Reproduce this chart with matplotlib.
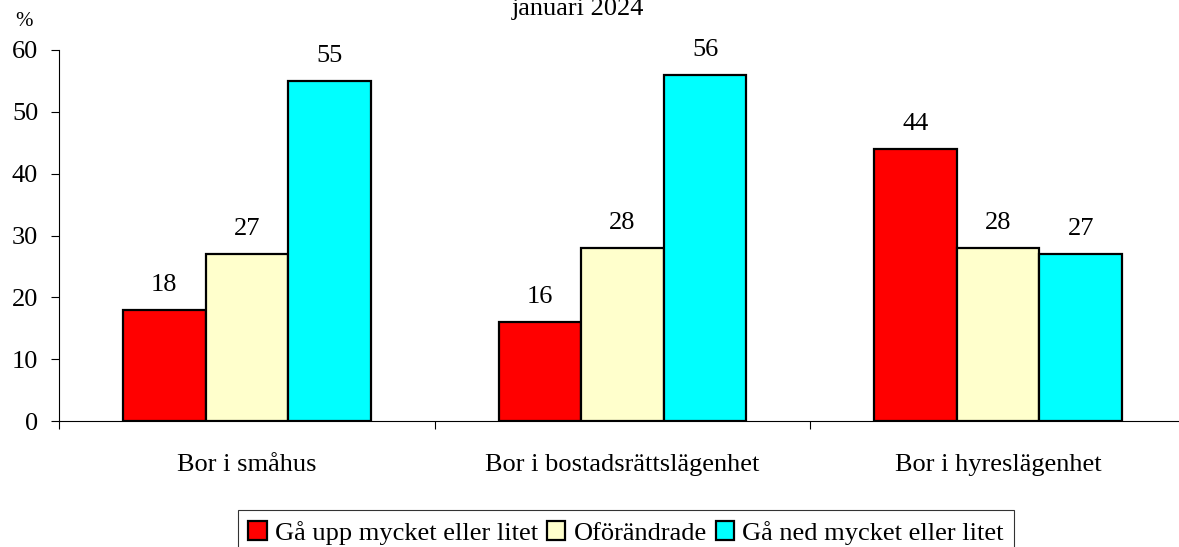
import matplotlib
matplotlib.use("Agg")
import matplotlib.pyplot as plt
import numpy as np

categories = ["Bor i småhus", "Bor i bostadsrättslägenhet", "Bor i hyreslägenhet"]
series_names = ["Gå upp mycket eller litet", "Oförändrade", "Gå ned mycket eller litet"]
gar_upp = [18, 16, 44]
oforandrade = [27, 28, 28]
gar_ned = [55, 56, 27]
yticks = [0, 10, 20, 30, 40, 50, 60]
colors = ["#FF0000", "#FFFFCC", "#00FFFF"]

plt.rcParams['font.family'] = ['Liberation Serif', 'DejaVu Serif']
FS = 19

fig = plt.figure(figsize=(11.79, 5.47), dpi=100)
ax = fig.add_axes([59/1179, 1-421/547, (1186-59)/1179, (421-50)/547])

x = np.arange(len(categories))
width = 0.22
series = [gar_upp, oforandrade, gar_ned]
for i, (vals, name, col) in enumerate(zip(series, series_names, colors)):
    bars = ax.bar(x + (i-1)*width, vals, width, color=col, edgecolor='black',
                  linewidth=1.6, label=name, zorder=3)
    for b, v in zip(bars, vals):
        ax.annotate(f"{v}", (b.get_x()+b.get_width()/2, v), xytext=(0, 10),
                    textcoords='offset points', ha='center', va='bottom', fontsize=FS)

ax.set_xlim(-0.5, 2.5)
ax.set_ylim(0, 60)
ax.set_yticks(yticks)
ax.set_xticks([-0.5, 0.5, 1.5, 2.5])
ax.set_xticklabels([])
ax.set_xticks(x, minor=True)
ax.set_xticklabels(categories, minor=True)
ax.tick_params(axis='x', which='major', direction='out', length=6, width=0.8)
ax.tick_params(axis='x', which='minor', length=0, pad=24, labelsize=FS)
ax.tick_params(axis='y', direction='out', length=6, width=0.8, pad=9, labelsize=FS)
for s in ['top', 'right']:
    ax.spines[s].set_visible(False)
for s in ['left', 'bottom']:
    ax.spines[s].set_linewidth(0.8)

fig.text(24/1179, 1-22/547, "%", ha='center', va='center', fontsize=15)
fig.text(578/1179, 1-15/547, "januari 2024", ha='center', va='baseline', fontsize=FS)

leg = fig.legend(loc='upper center', bbox_to_anchor=(626/1179, 1-510/547), ncol=3,
                 fontsize=FS, frameon=True, fancybox=False, edgecolor='black',
                 handlelength=0.7, handleheight=0.7, handletextpad=0.3,
                 columnspacing=0.35, borderpad=0.4, borderaxespad=0)
leg.get_frame().set_linewidth(0.8)

fig.savefig("out.png", dpi=100)
